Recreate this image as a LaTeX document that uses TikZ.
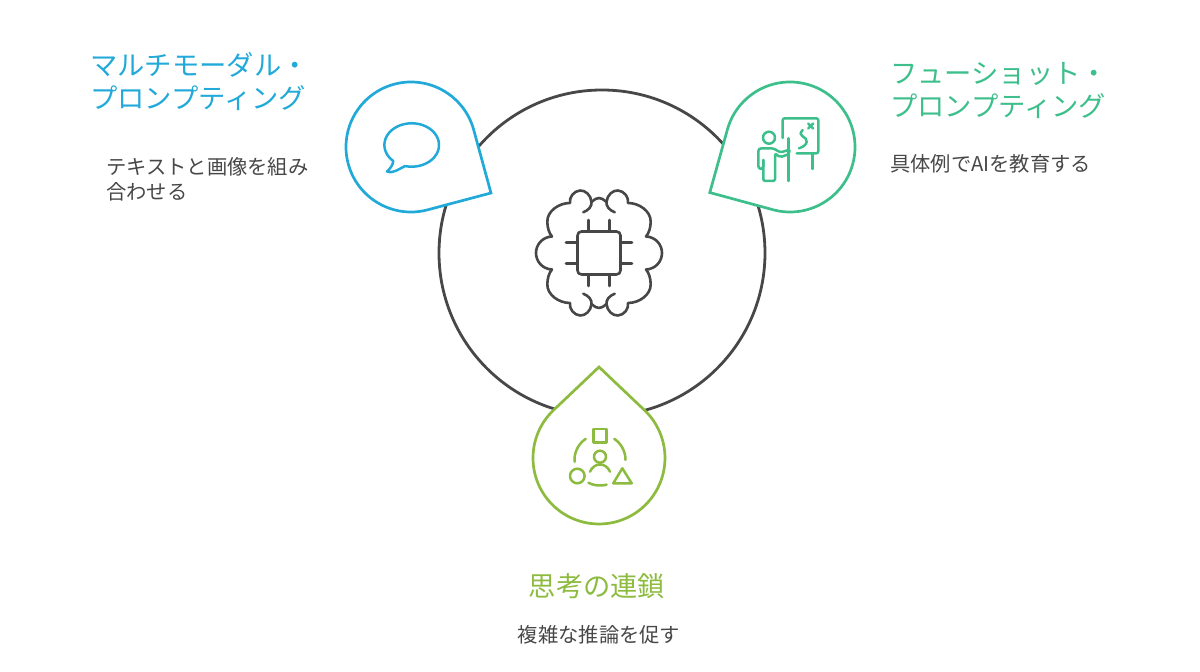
\documentclass[tikz,border=0pt]{standalone}
\usepackage{fontspec}
\setmainfont{Noto Sans CJK JP}
\usetikzlibrary{positioning}
\definecolor{hubcolor}{HTML}{474747}
\definecolor{bluecolor}{HTML}{21A9D9}
\definecolor{greencolor}{HTML}{3DBF8B}
\definecolor{olivecolor}{HTML}{8DBB3F}
\tikzstyle{hub} = [circle, draw=hubcolor, line width=2.8pt, minimum size=326pt, inner sep=0pt]
\tikzstyle{pinshape} = [line width=2.7pt, fill=white, line join=miter]
\tikzstyle{iconline} = [line width=2.5pt, line cap=round, line join=round]
\tikzstyle{title} = [anchor=north west, align=left, inner sep=0pt, font=\fontsize{27.3}{33}\selectfont]
\tikzstyle{body} = [anchor=north west, align=left, inner sep=0pt, text=hubcolor, font=\fontsize{20.3}{25}\selectfont]
\newcommand{\droppin}[6]{%
  \draw[pinshape, draw=#1] (#2,#3) ++({#5+#6}:#4)
    arc[start angle=#5+#6, end angle=#5-#6+360, radius=#4]
    -- ({#2+#4/cos(#6)*cos(#5)},{#3+#4/cos(#6)*sin(#5)}) -- cycle;}
\begin{document}
\begin{tikzpicture}[x=1pt, y=1pt]
    \useasboundingbox (0,0) rectangle (1200,672);
    \node[hub] (core) at (602,419) {};

    \droppin{bluecolor}{411}{525}{65}{-29.9}{45.2}
    \droppin{greencolor}{790}{525}{65}{209.6}{45.2}
    \droppin{olivecolor}{599}{214}{66}{90}{43.5}

    % brain and chip
    \begin{scope}[shift={(599,419)}, y=-1pt, iconline, line width=2.6pt, draw=hubcolor]
        \foreach \sx/\sy in {1/1, -1/1, 1/-1, -1/-1} {
            \begin{scope}[xscale=\sx, yscale=\sy]
                \draw (-15.7,-40.7) .. controls (-10,-43) and (-7,-47) .. (-7.5,-51)
                    .. controls (-8,-58) and (-14,-63) .. (-19,-62.5)
                    .. controls (-25,-62) and (-30,-56) .. (-29,-50)
                    .. controls (-40,-50) and (-52,-42) .. (-51.7,-31)
                    .. controls (-51.5,-25) and (-50,-20) .. (-47,-16.5)
                    .. controls (-57,-16) and (-63,-8) .. (-63,0);
                \draw (-7.5,-51) .. controls (-4,-54) and (-2,-55) .. (0,-55);
                \draw (-10.7,-33) -- (-10.7,-21.5);
                \draw (-33,-10.7) -- (-21.5,-10.7);
            \end{scope}
        }
        \draw[rounded corners=4pt] (-21.5,-21.5) rectangle (21.5,21.5);
    \end{scope}

    % speech bubble
    \begin{scope}[shift={(0,672)}, y=-1pt, iconline, draw=bluecolor]
        \draw plot[domain=134:464, samples=70] ({411.7+27.3*cos(\x)},{145+21.7*sin(\x)})
            .. controls (400,168) and (394,174) .. (387,171.5)
            .. controls (390,169) and (393,165) .. (393.3,160.7);
    \end{scope}

    % teacher at the board
    \begin{scope}[shift={(0,672)}, y=-1pt, iconline, draw=greencolor]
        \draw[rounded corners=2pt] (782.7,138) -- (782.7,118.3) -- (818.3,118.3) -- (818.3,153.3) -- (796.7,153.3);
        \draw (788.3,138.3) -- (788.3,181);
        \draw (812.3,153.3) -- (812.3,169);
        \draw (769,137.7) circle[radius=6];
        \draw[rounded corners=3pt] (763.3,160) -- (763.3,169) -- (758.3,169) -- (758.3,148.3) -- (774,148.3) -- (780,152.7) -- (788.3,150);
        \draw[rounded corners=2pt] (789.3,150) -- (789.3,154) -- (780,157.3) -- (775,153.3) -- (775,181) -- (763.3,181) -- (763.3,160);
        \draw (802.7,130) .. controls (796,137) and (808,136) .. (806.7,142) .. controls (806,145) and (803,147) .. (799,148.3);
        \draw (808.2,123.5) -- (813.2,128.5) (813.2,123.5) -- (808.2,128.5);
    \end{scope}

    % shapes around a person
    \begin{scope}[shift={(0,672)}, y=-1pt, iconline, draw=olivecolor]
        \draw plot[domain=176:236, samples=20] ({600+25.5*cos(\x)},{460+25.5*sin(\x)});
        \draw plot[domain=-56:0, samples=20] ({600+25.5*cos(\x)},{460+25.5*sin(\x)});
        \draw plot[domain=75:117, samples=20] ({600+25.5*cos(\x)},{460+25.5*sin(\x)});
        \draw (593.3,429) rectangle (606.7,442.3);
        \draw (600,456.7) circle[radius=6];
        \draw (590,471.7) .. controls (592,467) and (596,464.5) .. (600,464.5) .. controls (604,464.5) and (608,467) .. (610,471.7);
        \draw (577.3,476) circle[radius=7.3];
        \draw (622.3,468.3) -- (613.3,483.3) -- (631.7,483.3) -- cycle;
    \end{scope}

    \node[title, text=bluecolor] (titleblue) at (90,620) {マルチモーダル・\\プロンプティング};
    \node[body, below right=47pt and 16pt of titleblue.south west] (bodyblue) {テキストと画像を組み\\合わせる};
    \node[title, text=greencolor] (titlegreen) at (890,610) {フューショット・\\プロンプティング};
    \node[body, below=36pt of titlegreen.south west, anchor=north west] (bodygreen) {具体例でAIを教育する};
    \node[title, text=olivecolor, anchor=center] (titleolive) at (597,86) {思考の連鎖};
    \node[body, anchor=center] (bodyolive) at (599,37) {複雑な推論を促す};
\end{tikzpicture}
\end{document}
